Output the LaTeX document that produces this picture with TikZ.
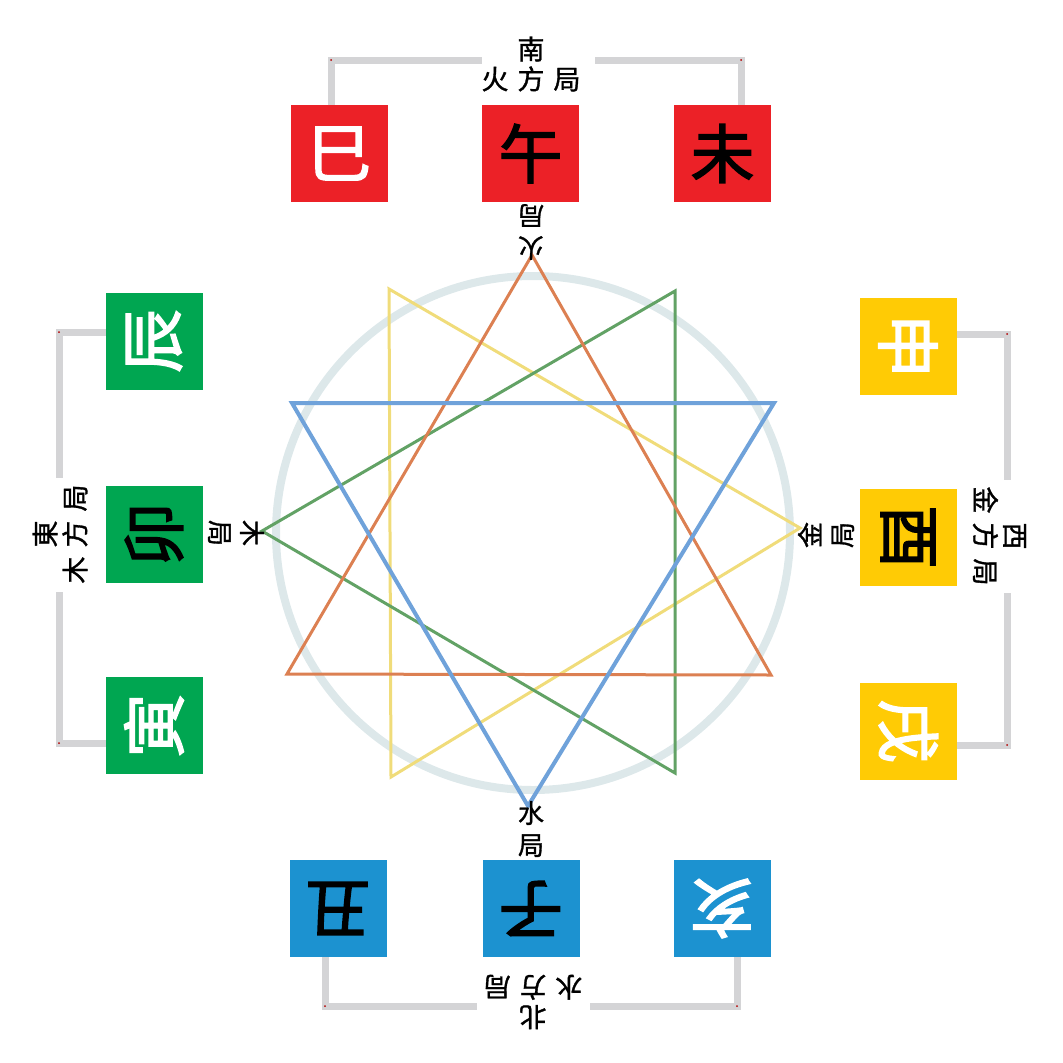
\documentclass[tikz,border=0pt]{standalone}
\usepackage{fontspec}
\newfontfamily\cjk[FakeBold=2.2]{Noto Sans CJK SC}
\newfontfamily\cjklbl[FakeBold=1.2]{Noto Sans CJK SC}
\definecolor{sqred}{HTML}{EC2127}
\definecolor{sqyel}{HTML}{FFCB05}
\definecolor{sqgrn}{HTML}{00A651}
\definecolor{sqblu}{HTML}{1C92D0}
\definecolor{brk}{HTML}{D4D4D6}
\definecolor{cir}{HTML}{DDE8EA}
\definecolor{tor}{HTML}{DC8052}
\definecolor{tbl}{HTML}{6FA2DA}
\definecolor{tgr}{HTML}{62A265}
\definecolor{tye}{HTML}{F0DC7A}
\begin{document}
\begin{tikzpicture}[x=1pt,y=-1pt,
  sq/.style={minimum size=97pt,inner sep=0pt,outer sep=0pt,font=\cjk\fontsize{64}{64}\selectfont},
  lbl/.style={inner sep=0pt,align=center,font=\cjklbl\fontsize{27}{30}\selectfont},
  inl/.style={inner sep=0pt,align=center,font=\cjklbl\fontsize{26}{32}\selectfont},
  bracket/.style={draw=brk,line width=7pt},
  dot/.style={fill=red!70!black,circle,inner sep=0pt,minimum size=2pt},
  tri/.style={line width=3pt,line join=miter}]
\useasboundingbox (0,0) rectangle (1063,1063);
% circle
\draw[cir,line width=8pt] (533,533) circle (257);
% triangles
\draw[tri,draw=tye] (800,528) -- (389,289) -- (391,777) -- cycle;
\draw[tri,draw=tgr] (262,531) -- (675,291) -- (675,773) -- cycle;
\draw[tri,draw=tor] (532,255) -- (287,674) -- (771,675) -- cycle;
\draw[tri,draw=tbl,line width=4pt] (292,403) -- (774,403) -- (528,806) -- cycle;
% squares
\node[sq,fill=sqred,text=white] (si) at (339.5,153.5) {巳};
\node[sq,fill=sqred,text=black] (wu) at (530.5,153.5) {午};
\node[sq,fill=sqred,text=black] (wei) at (722.5,153.5) {未};
\node[sq,fill=sqyel,text=white,rotate=-90] (shen) at (908,346) {申};
\node[sq,fill=sqyel,text=black,rotate=-90] (you) at (908,537) {酉};
\node[sq,fill=sqyel,text=white,rotate=-90] (xu) at (908,731) {戌};
\node[sq,fill=sqblu,text=white,rotate=180] (hai) at (722,908.5) {亥};
\node[sq,fill=sqblu,text=black,rotate=180] (zi) at (531,908.5) {子};
\node[sq,fill=sqblu,text=black,rotate=180] (chou) at (338,908.5) {丑};
\node[sq,fill=sqgrn,text=white,rotate=90] (yin) at (154,725.5) {寅};
\node[sq,fill=sqgrn,text=black,rotate=90] (mao) at (154,534.5) {卯};
\node[sq,fill=sqgrn,text=white,rotate=90] (chen) at (154,341) {辰};
% outer labels
\node[lbl] (south) at (531,64) {南\\火\hspace{9pt}方\hspace{9pt}局};
\node[lbl,rotate=-90] (west) at (999.5,536) {西\\金\hspace{9pt}方\hspace{9pt}局};
\node[lbl,rotate=180] (north) at (533,1002) {北\\水\hspace{9pt}方\hspace{9pt}局};
\node[lbl,rotate=90] (east) at (60,534) {東\\木\hspace{9pt}方\hspace{9pt}局};
% inner labels
\node[inl,rotate=180] (fire) at (531,232) {火\\局};
\node[inl] (water) at (531,829) {水\\局};
\node[inl,rotate=90] (metal) at (826,535) {金\\局};
\node[inl,rotate=-90] (wood) at (236,533) {木\\局};
% bracket end coordinates
\coordinate (tL) at (482,60); \coordinate (tR) at (595,60);
\coordinate (rT) at (1007,480); \coordinate (rB) at (1007,593);
\coordinate (bL) at (477,1006); \coordinate (bR) at (590,1006);
\coordinate (lT) at (59,478); \coordinate (lB) at (59,592);
% brackets
\draw[bracket] ([xshift=-8.5pt]si.north) |- (tL);
\draw[bracket] (tR) -| ([xshift=18.5pt]wei.north);
\draw[bracket] ([yshift=12pt]shen.north) -| (rT);
\draw[bracket] (rB) |- ([yshift=-14pt]xu.north);
\draw[bracket] ([xshift=-13pt]chou.north) |- (bL);
\draw[bracket] (bR) -| ([xshift=15pt]hai.north);
\draw[bracket] ([yshift=9pt]chen.north) -| (lT);
\draw[bracket] (lB) |- ([yshift=-17.5pt]yin.north);
% tiny corner dots
\foreach \p in {(331,60),(741,60),(1007,334),(1007,745),(325,1006),(737,1006),(59,332),(59,743)}
  \node[dot] at \p {};
\end{tikzpicture}
\end{document}
